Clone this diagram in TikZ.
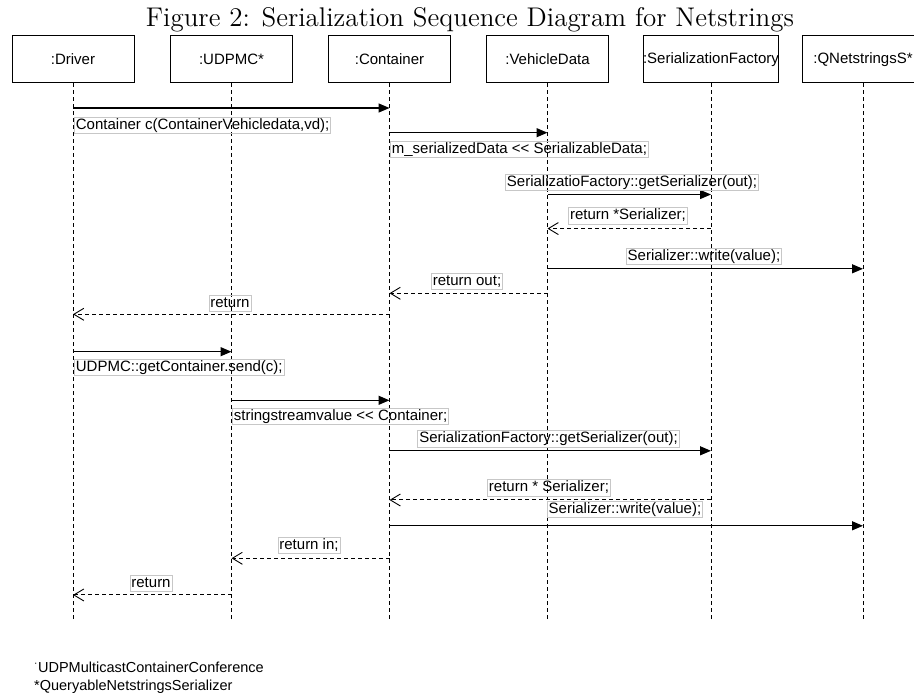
\documentclass[tikz,border=0pt]{standalone}
\usepackage{fontspec}
\setsansfont{Liberation Sans}
\usetikzlibrary{arrows.meta}
\begin{document}
\begin{tikzpicture}[x=1pt,y=-1pt,
  obj/.style={draw, line width=1pt, minimum width=122pt, minimum height=47pt,
    inner sep=0pt, font=\sffamily\fontsize{15}{18}\selectfont},
  lifeline/.style={line width=1pt, dash pattern=on 4pt off 3pt},
  call/.style={line width=1.3pt, -{Triangle[length=11pt,width=9pt]}},
  reply/.style={line width=1pt, dash pattern=on 4pt off 3pt,
    -{Straight Barb[length=10pt,width=12pt,line width=0.9pt]}},
  lbl/.style={draw=black!22, line width=0.8pt, inner xsep=1.5pt, inner ysep=1pt,
    text height=11pt, text depth=3.5pt, font=\sffamily\fontsize{15}{18}\selectfont},
  note/.style={anchor=base west, inner sep=0pt, font=\sffamily\fontsize{14.5}{17}\selectfont},
]
\useasboundingbox (0,0) rectangle (914,700);
\clip (0,0) rectangle (914,700);

% title
\node[anchor=base, inner sep=0pt, scale=2.25, font=\fontsize{12}{14}\selectfont] (title) at (470,27)
  {Figure 2: Serialization Sequence Diagram for Netstrings};

% participants
\node[obj] (driver)    at (73,59.5)    {:Driver};
\node[obj] (udpmc)     at (231.5,59.5) {:UDPMC*};
\node[obj] (container) at (389.5,59.5) {:Container};
\node[obj] (vehicle)   at (547.5,59.5) {:VehicleData};
\node[obj, minimum width=134pt] (factory) at (711,59.5) {:SerializationFactory};
\node[obj] (qns)       at (863,59.5)   {:QNetstringsS*};

% lifelines
\coordinate (bottom) at (0,621);
\foreach \p in {driver,udpmc,container,vehicle,factory,qns}
  \draw[lifeline] (\p.south) -- (\p |- bottom);

% message rows
\coordinate (m1)  at (0,108);
\coordinate (m2)  at (0,132.7);
\coordinate (m3)  at (0,194.5);
\coordinate (m4)  at (0,228.6);
\coordinate (m5)  at (0,268.8);
\coordinate (m6)  at (0,293.3);
\coordinate (m7)  at (0,314.3);
\coordinate (m8)  at (0,351.7);
\coordinate (m9)  at (0,400.3);
\coordinate (m10) at (0,450.8);
\coordinate (m11) at (0,500);
\coordinate (m12) at (0,525.8);
\coordinate (m13) at (0,558.3);
\coordinate (m14) at (0,595);

% first exchange: building the container
\draw[call]  (driver |- m1)    -- (container |- m1);
\draw[call]  (container |- m2) -- (vehicle |- m2);
\draw[call]  (vehicle |- m3)   -- (factory |- m3);
\draw[reply] (factory |- m4)   -- (vehicle |- m4);
\draw[call]  (vehicle |- m5)   -- (qns |- m5);
\draw[reply] (vehicle |- m6)   -- (container |- m6);
\draw[reply] (container |- m7) -- (driver |- m7);

% second exchange: sending the container
\draw[call]  (driver |- m8)     -- (udpmc |- m8);
\draw[call]  (udpmc |- m9)      -- (container |- m9);
\draw[call]  (container |- m10) -- (factory |- m10);
\draw[reply] (factory |- m11)   -- (container |- m11);
\draw[call]  (container |- m12) -- (qns |- m12);
\draw[reply] (container |- m13) -- (udpmc |- m13);
\draw[reply] (udpmc |- m14)     -- (driver |- m14);

% message labels
\node[lbl, anchor=north west] (l1) at (74,117)  {Container c(ContainerVehicledata,vd);};
\node[lbl, anchor=north west] (l2) at (390,141) {m\_serializedData <{}< SerializableData;};
\node[lbl, anchor=south] (l3) at (632,191)   {SerializatioFactory::getSerializer(out);};
\node[lbl, anchor=south] (l4) at (628,224.5) {return *Serializer;};
\node[lbl, anchor=south] (l5) at (704,265)   {Serializer::write(value);};
\node[lbl, anchor=south] (l6) at (467,290)   {return out;};
\node[lbl, anchor=south] (l7) at (230,312)   {return};
\node[lbl, anchor=north west] (l8) at (74,359)  {UDPMC::getContainer.send(c);};
\node[lbl, anchor=north west] (l9) at (232,408) {stringstreamvalue <{}< Container;};
\node[lbl, anchor=south] (l10) at (548.5,447.5) {SerializationFactory::getSerializer(out);};
\node[lbl, anchor=south] (l11) at (549,496.5)   {return * Serializer;};
\node[lbl, anchor=south] (l12) at (625,518)     {Serializer::write(value);};
\node[lbl, anchor=south] (l13) at (309,554)     {return in;};
\node[lbl, anchor=south] (l14) at (151,592)     {return};

% footnotes
\node[note] (fn1) at (34,672) {\textsuperscript{·}UDPMulticastContainerConference};
\node[note] (fn2) at (34,690) {*QueryableNetstringsSerializer};
\end{tikzpicture}
\end{document}
